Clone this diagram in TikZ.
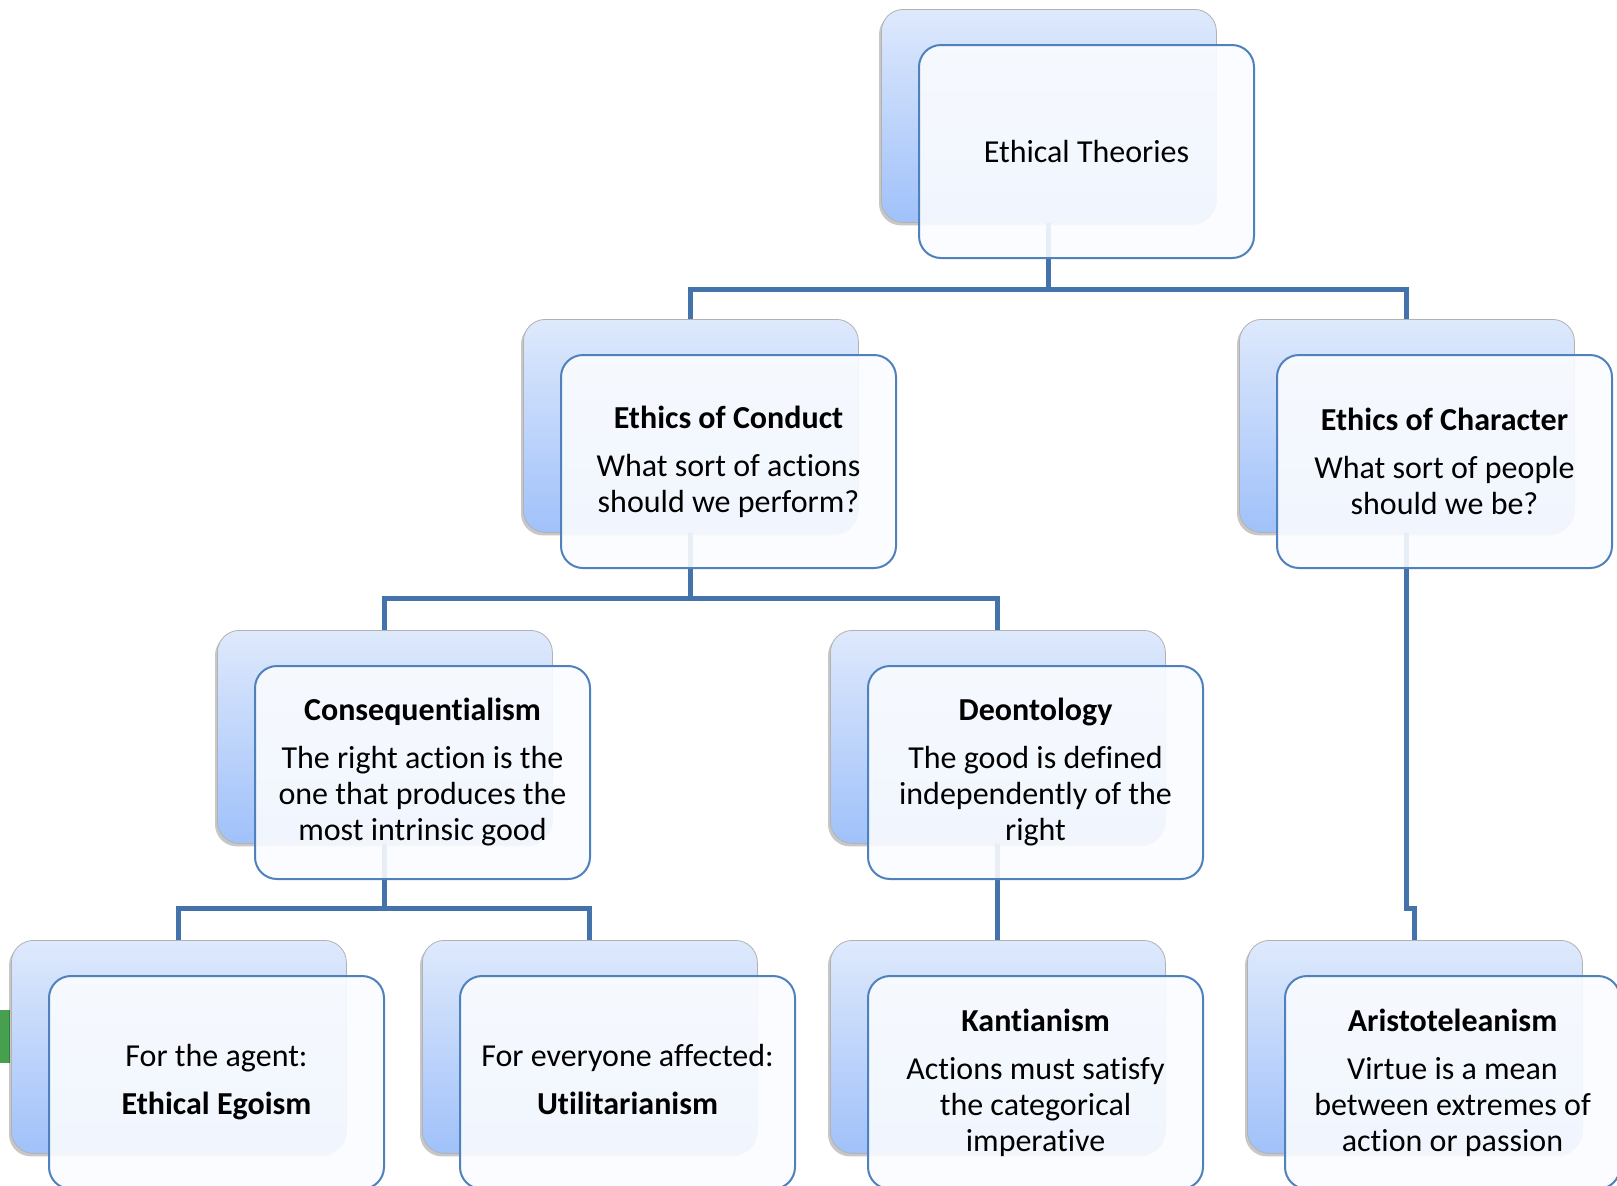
\documentclass[tikz,border=0pt]{standalone}
\usepackage{fontspec}
\setmainfont{Carlito}[Ligatures=NoCommon]
\usetikzlibrary{shadows}
\definecolor{linec}{RGB}{68,114,170}
\definecolor{frontc}{RGB}{79,129,189}
\definecolor{backtop}{RGB}{222,233,252}
\definecolor{backbot}{RGB}{160,193,250}
\definecolor{frontfill}{RGB}{250,252,255}
\definecolor{logogreen}{RGB}{70,160,80}
\tikzset{
  backbox/.style={rectangle, rounded corners=11pt, minimum width=167.5pt, minimum height=106.5pt,
    anchor=north west, top color=backtop, bottom color=backbot, draw=gray!60, line width=0.4pt,
    drop shadow={shadow xshift=-1.2pt, shadow yshift=-1.5pt, opacity=0.22, fill=black}},
  frontbox/.style={rectangle, rounded corners=11pt, minimum width=167.5pt, minimum height=106.5pt,
    anchor=north west, fill=frontfill, fill opacity=0.9, text opacity=1, draw=frontc, line width=1pt,
    align=center, font=\fontsize{16}{18}\selectfont, inner sep=0pt},
  conn/.style={draw=linec, line width=2.5pt},
}
\begin{document}
\begin{tikzpicture}[x=0.5pt,y=-0.5pt]
\useasboundingbox (0,0) rectangle (1617,1185);
\clip (0,0) rectangle (1617,1185);
\fill[white] (0,0) rectangle (1617,1185);
% logo fragment at left edge
\fill[logogreen] (0,1010) rectangle (10,1063);
\draw[logogreen, line width=5pt] (-60,1060) arc[start angle=0, end angle=-50, radius=60];
% back boxes
\node[backbox] (Tb) at (881,9) {};
\node[backbox] (Cb) at (523,319) {};
\node[backbox] (Hb) at (1239,319) {};
\node[backbox] (Qb) at (217,630) {};
\node[backbox] (Db) at (830,630) {};
\node[backbox] (Eb) at (11,940) {};
\node[backbox] (Ub) at (422,940) {};
\node[backbox] (Kb) at (830,940) {};
\node[backbox] (Ab) at (1247,940) {};
% connectors
\draw[conn] (Tb.south) -- (Tb.south |- 0,289) -| (Cb.north);
\draw[conn] (Tb.south |- 0,289) -| (Hb.north);
\draw[conn] (Cb.south) -- (Cb.south |- 0,598) -| (Qb.north);
\draw[conn] (Cb.south |- 0,598) -| (Db.north);
\draw[conn] (Qb.south) -- (Qb.south |- 0,908) -| (Eb.north);
\draw[conn] (Qb.south |- 0,908) -| (Ub.north);
\draw[conn] (Db.south) -- (Kb.north);
\draw[conn] (Hb.south) -- (Hb.south |- 0,908) -| (Ab.north);
% front boxes
\node[frontbox] (T) at (918,44) {Ethical Theories};
\node[frontbox] (C) at (560,354) {\textbf{Ethics of Conduct}\\[6pt]What sort of actions\\should we perform?};
\node[frontbox] (H) at (1276,354) {\textbf{Ethics of Character}\\[6pt]What sort of people\\should we be?};
\node[frontbox] (Q) at (254,665) {\textbf{Consequentialism}\\[6pt]The right action is the\\one that produces the\\most intrinsic good};
\node[frontbox] (D) at (867,665) {\textbf{Deontology}\\[6pt]The good is defined\\independently of the\\right};
\node[frontbox] (E) at (48,975) {For the agent:\\[6pt]\textbf{Ethical Egoism}};
\node[frontbox] (U) at (459,975) {For everyone affected:\\[6pt]\textbf{Utilitarianism}\vphantom{g}};
\node[frontbox] (K) at (867,975) {\textbf{Kantianism}\\[6pt]Actions must satisfy\\the categorical\\imperative};
\node[frontbox] (A) at (1284,975) {\textbf{Aristoteleanism}\\[6pt]Virtue is a mean\\between extremes of\\action or passion};
\end{tikzpicture}
\end{document}
